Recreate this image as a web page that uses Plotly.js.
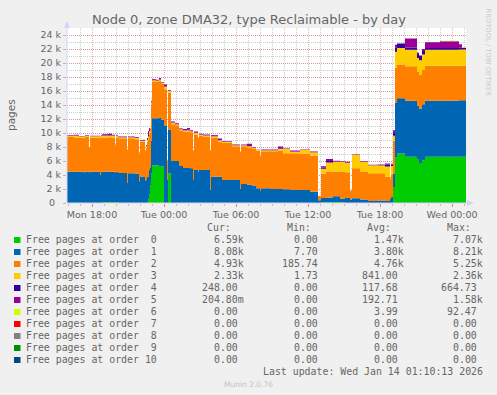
<!DOCTYPE html>
<html><head><meta charset="utf-8">
<script src="https://cdn.plot.ly/plotly-3.0.1.min.js"></script>
<style>html,body{margin:0;padding:0;background:#F0F0F0}#chart{width:497px;height:395px}</style>
</head><body><div id="chart"></div>
<script>
const times = [
'2026-01-12 15:55','2026-01-12 16:30','2026-01-12 16:55','2026-01-12 17:20','2026-01-12 17:25','2026-01-12 17:45','2026-01-12 17:50','2026-01-12 18:40','2026-01-12 18:45','2026-01-12 18:50',
'2026-01-12 19:20','2026-01-12 19:40','2026-01-12 19:55','2026-01-12 20:00','2026-01-12 20:10','2026-01-12 20:55','2026-01-12 21:00','2026-01-12 21:35','2026-01-12 21:55','2026-01-12 22:00',
'2026-01-12 22:15','2026-01-12 22:25','2026-01-12 22:30','2026-01-12 22:35','2026-01-12 22:40','2026-01-12 22:45','2026-01-12 22:50','2026-01-12 22:55','2026-01-12 23:00','2026-01-12 23:20',
'2026-01-12 23:35','2026-01-12 23:45','2026-01-13 00:00','2026-01-13 00:15','2026-01-13 00:20','2026-01-13 00:35','2026-01-13 00:55','2026-01-13 01:15','2026-01-13 01:35','2026-01-13 01:55',
'2026-01-13 02:10','2026-01-13 02:25','2026-01-13 02:30','2026-01-13 02:50','2026-01-13 02:55','2026-01-13 03:15','2026-01-13 03:50','2026-01-13 03:55','2026-01-13 04:30','2026-01-13 04:50',
'2026-01-13 05:40','2026-01-13 06:20','2026-01-13 06:25','2026-01-13 06:55','2026-01-13 07:20','2026-01-13 07:40','2026-01-13 08:00','2026-01-13 08:05','2026-01-13 08:50','2026-01-13 09:30',
'2026-01-13 09:55','2026-01-13 10:30','2026-01-13 11:20','2026-01-13 12:10','2026-01-13 12:50','2026-01-13 13:05','2026-01-13 13:30','2026-01-13 14:05','2026-01-13 14:40','2026-01-13 15:05',
'2026-01-13 15:30','2026-01-13 15:40','2026-01-13 16:20','2026-01-13 17:00','2026-01-13 17:50','2026-01-13 18:25','2026-01-13 18:50','2026-01-13 18:55','2026-01-13 19:05','2026-01-13 19:15',
'2026-01-13 19:25','2026-01-13 20:05','2026-01-13 21:05','2026-01-13 21:15','2026-01-13 21:30','2026-01-13 21:45','2026-01-13 23:00','2026-01-14 00:35','2026-01-14 00:50','2026-01-14 01:10'
];
const order0 = [0,0,0,0,0,0,0,0,0,150, 150,150,100,150,0,0,0,0,0,0, 0,0,0,100,500,1200,2500,4200,5400,5400, 5300,5200,0,0,4200,0,0,0,0,0,
0,0,0,0,0,0,0,0,0,0, 0,0,0,0,0,0,0,0,0,0, 0,0,0,0,0,100,100,150,100,0, 0,0,0,0,0,0,0,0,2300,6500, 7070,6600,6300,5700,6100,6600,6600,6600,6590,6590];
const order1 = [4470,4450,4470,4300,4470,4400,4470,4000,4450,4300, 4300,4300,4200,4300,4300,2900,4250,4200,3100,3800, 3700,3200,3400,3600,3300,3500,2600,4700,6700,6700, 6900,6700,11000,3300,6300,6000,6000,5300,5000,5000,
4950,3300,4700,4500,4700,4700,1900,3750,3750,3300, 3300,2000,2700,2600,2500,2100,1700,2100,2000,2000, 1950,1860,1860,1600,400,600,700,800,500,700, 500,670,500,300,350,300,600,900,1900,7800, 7900,8000,7600,7800,8000,8000,8000,8080,8080,8080];
const order2 = [4950,4900,4850,4950,4950,3300,4900,5200,4950,4900, 4950,4900,3900,4900,4950,4700,5000,4900,4000,4950, 5000,4300,4500,5000,5200,5200,5000,5200,5250,5200, 5250,5100,5250,2800,5250,5250,5100,5100,5200,5200,
5150,4200,5100,4800,4900,4800,5600,5600,5000,5300, 4800,5300,5400,5300,5200,5400,5000,5300,5400,5500, 5150,5250,5200,5200,600,3500,3700,3550,3900,3700, 1300,4300,4000,3950,3900,3450,2800,3200,4700,5000, 4800,4950,4800,4800,4900,5000,5000,4930,4930,4930];
const order3 = [150,250,150,200,150,100,150,200,200,300, 250,300,200,250,150,100,150,200,100,150, 200,100,200,300,500,400,300,300,200,150, 200,150,400,100,250,200,150,150,150,200,
150,100,200,100,150,150,100,200,200,150, 150,100,150,200,150,100,100,150,150,200, 600,200,500,450,0,700,1300,1400,1350,1300, 0,1900,1350,1150,1100,1450,300,1200,700,2300, 2360,2350,2000,2100,2200,2300,2300,2330,2330,2330];
const order4 = [40,60,30,40,40,20,30,30,40,60, 50,50,30,40,30,0,30,40,20,30, 50,0,50,100,300,200,100,100,50,50, 60,40,80,0,60,60,50,50,60,80,
50,0,50,0,50,40,0,50,50,40, 40,0,40,60,40,20,0,30,30,60, 30,40,50,40,0,150,200,50,50,80, 0,0,50,30,50,300,0,200,500,600, 660,300,600,660,500,250,250,248,248,248];
const order5 = [60,100,50,60,60,30,60,50,60,120, 200,60,50,60,60,0,60,80,30,60, 80,0,100,200,500,200,100,100,100,100, 150,60,200,0,100,150,100,80,150,250,
80,0,150,0,100,80,0,100,200,60, 60,0,60,300,60,30,0,50,50,300, 50,150,50,60,0,200,300,100,50,100, 0,50,50,50,100,150,0,100,300,400, 0,1300,200,0,300,800,950,500,0.2,0.2];
const order6 = [0,0,0,0,0,0,0,0,0,0, 0,0,0,0,0,0,0,0,0,0, 0,0,0,0,0,0,0,0,0,0, 0,0,0,0,0,0,0,0,0,0,
0,0,0,0,0,0,0,0,0,0, 0,0,0,0,0,0,0,0,0,0, 0,0,0,0,0,0,0,0,0,0, 0,0,0,0,0,0,0,0,0,0, 0,0,0,0,0,0,90,0,0,0];
const zeros = times.map(() => 0);
const order7 = zeros, order8 = zeros, order9 = zeros, order10 = zeros;

const seriesNames = ['Free pages at order\u00A0\u00A00','Free pages at order\u00A0\u00A01','Free pages at order\u00A0\u00A02','Free pages at order\u00A0\u00A03','Free pages at order\u00A0\u00A04','Free pages at order\u00A0\u00A05','Free pages at order\u00A0\u00A06','Free pages at order\u00A0\u00A07','Free pages at order\u00A0\u00A08','Free pages at order\u00A0\u00A09','Free pages at order 10'];
const seriesColors = ['#00CC00','#0066B3','#FF8000','#FFCC00','#330099','#990099','#CCFF00','#FF0000','#808080','#008F00','#00487D'];
const seriesData = [order0,order1,order2,order3,order4,order5,order6,order7,order8,order9,order10];
const curVals = ['6.59k','8.08k','4.93k','2.33k','248.00','204.80m','0.00','0.00','0.00','0.00','0.00'];
const minVals = ['0.00','7.70','185.74','1.73','0.00','0.00','0.00','0.00','0.00','0.00','0.00'];
const avgVals = ['1.47k','3.80k','4.76k','841.00','117.68','192.71','3.99','0.00','0.00','0.00','0.00'];
const maxVals = ['7.07k','8.21k','5.25k','2.36k','664.73','1.58k','92.47','0.00','0.00','0.00','0.00'];
const yTickVals = [0,2000,4000,6000,8000,10000,12000,14000,16000,18000,20000,22000,24000];
const yTickText = ['0\u00A0\u00A0','2 k','4 k','6 k','8 k','10 k','12 k','14 k','16 k','18 k','20 k','22 k','24 k'];

const L = 67, R = 466, T = 28, B = 203;
const px = x => (x - L) / (R - L);
const py = y => (B - y) / (B - T);
const FONT = 'DejaVu Sans, sans-serif';
const MONO = 'DejaVu Sans Mono, monospace';
const TXT = '#666666';

const traces = seriesData.map((d, i) => ({
  type: 'scatter', mode: 'lines', x: times, y: d, name: seriesNames[i],
  stackgroup: 'one', line: {width: 0, shape: 'hv', color: seriesColors[i]},
  fillcolor: seriesColors[i], showlegend: false, hoverinfo: 'skip'
}));

const annotations = [];
const shapes = [];
function ann(text, x, y, xanchor, opts) {
  annotations.push(Object.assign({text, x: px(x), y: py(y), xref: 'paper', yref: 'paper',
    xanchor, yanchor: 'middle', showarrow: false, borderpad: 0, borderwidth: 0,
    font: {family: MONO, size: 9.9, color: TXT}}, opts || {}));
}
ann('Cur:', 231.2, 227.7, 'right');
ann('Min:', 310.8, 227.7, 'right');
ann('Avg:', 390.5, 227.7, 'right');
ann('Max:', 470.5, 227.7, 'right');
const cw = 5.97;
function edge(v, e) { return /[a-z]$/.test(v) ? e : e - cw; }
for (let i = 0; i < seriesNames.length; i++) {
  const yc = 239.8 + 12 * i;
  shapes.push({type: 'rect', xref: 'paper', yref: 'paper', x0: px(14), x1: px(20.5), y0: py(237 + 12*i), y1: py(243 + 12*i),
    fillcolor: seriesColors[i], line: {width: 0}});
  ann(seriesNames[i], 26.2, yc, 'left');
  ann(curVals[i], edge(curVals[i], 243.8), yc, 'right');
  ann(minVals[i], edge(minVals[i], 323.5), yc, 'right');
  ann(avgVals[i], edge(avgVals[i], 403.5), yc, 'right');
  ann(maxVals[i], edge(maxVals[i], 483.2), yc, 'right');
}
ann('Last update: Wed Jan 14 01:10:13 2026', 483.2, 371.7, 'right');
ann('Munin 2.0.76', 248, 384, 'center', {font: {family: FONT, size: 7.5, color: '#C4C4C4'}});
ann('RRDTOOL / TOBI OETIKER', 487.5, 53, 'center', {textangle: 90, font: {family: FONT, size: 6.8, color: '#C8C8C8'}});
ann('pages', 11, 115, 'center', {textangle: -90, font: {family: FONT, size: 10.5, color: TXT}});

// axis arrows and axis lines
shapes.push({type: 'path', xref: 'paper', yref: 'paper', layer: 'above',
  path: `M ${px(64)} ${py(28)} L ${px(70)} ${py(28)} L ${px(67)} ${py(21)} Z`, fillcolor: '#CFD6F8', line: {width: 0}});
shapes.push({type: 'path', xref: 'paper', yref: 'paper', layer: 'above',
  path: `M ${px(467)} ${py(200)} L ${px(467)} ${py(206)} L ${px(474)} ${py(203)} Z`, fillcolor: '#CFD6F8', line: {width: 0}});
shapes.push({type: 'line', xref: 'paper', yref: 'paper', layer: 'above', x0: px(67), x1: px(468), y0: 0, y1: 0, line: {color: '#CFD6F8', width: 1}});
shapes.push({type: 'line', xref: 'paper', yref: 'paper', layer: 'above', x0: 0, x1: 0, y0: 0, y1: py(27), line: {color: '#CFD6F8', width: 1}});

const MAJ = 'rgba(225,110,110,0.55)';
const MIN = 'rgba(140,140,140,0.45)';
const DOT = '1px,1px';
const layout = {
  width: 497, height: 395,
  margin: {l: L, r: 497 - R, t: T, b: 395 - B, pad: 0},
  paper_bgcolor: '#F0F0F0', plot_bgcolor: '#FFFFFF',
  title: {text: 'Node 0, zone DMA32, type Reclaimable - by day', font: {family: FONT, size: 13, color: TXT},
    xref: 'container', yref: 'container', x: 249/497, y: 1 - 19/395, xanchor: 'center', yanchor: 'middle'},
  xaxis: {type: 'date', range: ['2026-01-12 15:55', '2026-01-14 01:10'],
    tickmode: 'linear', tick0: '2026-01-12 18:00', dtick: 21600000, tickformat: '%a %H:%M',
    ticks: 'outside', ticklen: 3, tickcolor: 'rgba(255,0,0,0.5)',
    showgrid: true, gridcolor: MAJ, griddash: DOT, gridwidth: 1,
    minor: {tickmode: 'linear', dtick: 3600000, showgrid: true, gridcolor: MIN, griddash: DOT, ticks: 'outside', ticklen: 2, tickcolor: 'rgba(255,0,0,0.3)'},
    zeroline: false, showline: false, fixedrange: true,
    tickfont: {family: FONT, size: 9.5, color: TXT}},
  yaxis: {range: [0, 25000], tickmode: 'array', tickvals: yTickVals, ticktext: yTickText,
    ticks: 'outside', ticklen: 3, tickcolor: '#B8B8B8',
    showgrid: true, gridcolor: MAJ, griddash: DOT, gridwidth: 1,
    minor: {tickmode: 'linear', tick0: 0, dtick: 1000, showgrid: true, gridcolor: MIN, griddash: DOT},
    zeroline: false, showline: false, fixedrange: true,
    tickfont: {family: FONT, size: 9.5, color: TXT}},
  annotations, shapes, showlegend: false
};
Plotly.newPlot('chart', traces, layout, {staticPlot: true, displayModeBar: false});
</script></body></html>
